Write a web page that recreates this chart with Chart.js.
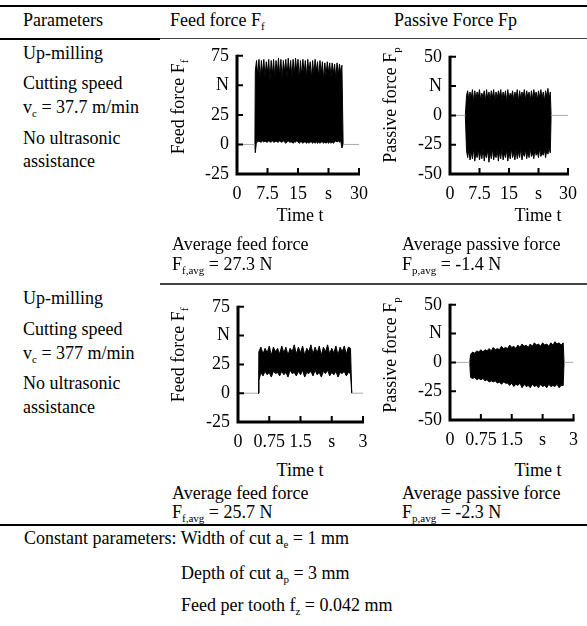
<!DOCTYPE html>
<html>
<head>
<meta charset="utf-8">
<script src="https://cdn.jsdelivr.net/npm/chart.js@4.4.0/dist/chart.umd.min.js"></script>
<style>
body{margin:0;width:587px;height:626px;background:#fff;position:relative;overflow:hidden;
  font-family:"Liberation Serif","Times New Roman",serif;color:#000}
.t{position:absolute;white-space:nowrap;font-size:18px;line-height:18px}
.c{width:120px;text-align:center}
.rule{position:absolute}
sub{font-size:11px;vertical-align:-4px;line-height:0}
.ylab{position:absolute;width:150px;height:20px;text-align:center;white-space:nowrap;
  font-size:18px;line-height:20px;transform:rotate(-90deg)}
canvas{position:absolute}
</style>
</head>
<body>
<div class="rule" style="left:0;top:5px;width:587px;height:2px;background:#000"></div>
<div class="rule" style="left:0;top:38px;width:160px;height:2px;background:#000"></div>
<div class="rule" style="left:160px;top:38px;width:427px;height:1px;background:#444"></div>
<div class="rule" style="left:160px;top:283px;width:427px;height:2px;background:#444"></div>
<div class="rule" style="left:0;top:524px;width:587px;height:2px;background:#000"></div>

<div class="t" style="left:23px;top:11px">Parameters</div>
<div class="t" style="left:170px;top:11px">Feed force F<sub>f</sub></div>
<div class="t" style="left:394px;top:11px">Passive Force Fp</div>

<div class="t" style="left:23px;top:44px">Up-milling</div>
<div class="t" style="left:23px;top:74px">Cutting speed</div>
<div class="t" style="left:23px;top:98px">v<sub>c</sub> = 37.7 m/min</div>
<div class="t" style="left:23px;top:129px">No ultrasonic</div>
<div class="t" style="left:23px;top:152px">assistance</div>

<div class="t" style="left:23px;top:289px">Up-milling</div>
<div class="t" style="left:23px;top:320px">Cutting speed</div>
<div class="t" style="left:23px;top:344px">v<sub>c</sub> = 377 m/min</div>
<div class="t" style="left:23px;top:374px">No ultrasonic</div>
<div class="t" style="left:23px;top:398px">assistance</div>

<canvas id="c1" width="190" height="173" style="left:187px;top:37px"></canvas>
<canvas id="c2" width="186" height="172" style="left:400px;top:38px"></canvas>
<canvas id="c3" width="189" height="170" style="left:188px;top:288px"></canvas>
<canvas id="c4" width="187" height="170" style="left:400px;top:286px"></canvas>

<div class="ylab" style="left:103px;top:97px">Feed force F<sub>f</sub></div>
<div class="ylab" style="left:315px;top:95px">Passive force F<sub>p</sub></div>
<div class="ylab" style="left:103px;top:345px">Feed force F<sub>f</sub></div>
<div class="ylab" style="left:315px;top:345px">Passive force F<sub>p</sub></div>

<div class="t c" style="left:240px;top:206px">Time t</div>
<div class="t c" style="left:478px;top:206px">Time t</div>
<div class="t" style="left:172px;top:235px">Average feed force</div>
<div class="t" style="left:172px;top:255px">F<sub>f,avg</sub> = 27.3 N</div>
<div class="t" style="left:402px;top:235px">Average passive force</div>
<div class="t" style="left:402px;top:255px">F<sub>p,avg</sub> = -1.4 N</div>

<div class="t c" style="left:240px;top:461px">Time t</div>
<div class="t c" style="left:478px;top:461px">Time t</div>
<div class="t" style="left:172px;top:484px">Average feed force</div>
<div class="t" style="left:172px;top:503px">F<sub>f,avg</sub> = 25.7 N</div>
<div class="t" style="left:402px;top:484px">Average passive force</div>
<div class="t" style="left:402px;top:503px">F<sub>p,avg</sub> = -2.3 N</div>

<div class="t" id="f1" style="left:24px;top:529px">Constant parameters: <span id="w">Width of cut a<sub>e</sub> = 1 mm</span></div>
<div class="t" id="f2" style="left:180px;top:564px">Depth of cut a<sub>p</sub> = 3 mm</div>
<div class="t" id="f3" style="left:180px;top:596px">Feed per tooth f<sub>z</sub> = 0.042 mm</div>

<script>
// feed force, vc = 37.7 m/min
var ff1Time = [4.4,
  4.5,4.8,5.1,5.4,5.7,6.0,6.3,6.6,6.9,7.2,
  7.5,7.8,8.1,8.4,8.7,9.0,9.3,9.6,9.9,10.2,
  10.5,10.8,11.1,11.4,11.7,12.0,12.3,12.6,12.9,13.2,
  13.5,13.8,14.1,14.4,14.7,15.0,15.3,15.6,15.9,16.2,
  16.5,16.8,17.1,17.4,17.7,18.0,18.3,18.6,18.9,19.2,
  19.5,19.8,20.1,20.4,20.7,21.0,21.3,21.6,21.9,22.2,
  22.5,22.8,23.1,23.4,23.7,24.0,24.3,24.6,24.9,25.2,
  25.5,25.8,
  26.1];
var ff1Upper = [0,
  62,71,58,72,55,71,60,72,57,70,
  61,72,54,71,59,72,56,71,60,73,
  58,72,55,71,61,72,57,73,60,71,
  56,72,59,73,62,72,55,71,58,72,
  60,71,57,72,61,70,56,71,59,72,
  62,70,57,71,60,70,55,69,58,70,
  61,69,57,69,60,68,56,69,59,68,
  61,67,
  0];
var ff1Lower = [0,
  -7,3,2,3,2,2,3,2,3,2,
  2,3,2,2,3,2,2,3,2,2,
  3,2,2,3,2,1,2,3,2,2,
  2,1,2,2,3,2,1,2,2,1,
  2,2,1,2,1,2,2,1,2,1,
  2,1,2,1,2,2,1,2,1,2,
  1,2,1,2,1,2,3,2,3,2,
  3,-3,
  0];

// passive force, vc = 37.7 m/min
var fp1Time = [3.9,
  4.2,4.5,4.8,5.1,5.4,5.7,6.0,6.3,6.6,6.9,
  7.2,7.5,7.8,8.1,8.4,8.7,9.0,9.3,9.6,9.9,
  10.2,10.5,10.8,11.1,11.4,11.7,12.0,12.3,12.6,12.9,
  13.2,13.5,13.8,14.1,14.4,14.7,15.0,15.3,15.6,15.9,
  16.2,16.5,16.8,17.1,17.4,17.7,18.0,18.3,18.6,18.9,
  19.2,19.5,19.8,20.1,20.4,20.7,21.0,21.3,21.6,21.9,
  22.2,22.5,22.8,23.1,23.4,23.7,24.0,24.3,24.6,24.9,
  25.2,25.5,
  25.7];
var fp1Upper = [0,
  17,21,13,20,15,22,12,21,14,20,
  16,22,13,19,15,21,12,22,14,20,
  13,21,15,22,12,20,14,21,16,22,
  13,20,15,21,12,22,14,19,16,21,
  13,20,15,22,12,21,14,20,16,22,
  13,21,15,20,12,21,14,22,16,20,
  13,21,15,22,14,20,12,21,16,23,
  14,20,
  0];
var fp1Lower = [0,
  -30,-36,-29,-38,-31,-37,-28,-39,-32,-36,
  -29,-38,-31,-37,-28,-39,-33,-36,-29,-40,
  -31,-37,-28,-38,-32,-36,-29,-39,-31,-37,
  -28,-38,-32,-36,-29,-39,-31,-37,-28,-36,
  -32,-38,-29,-37,-31,-36,-28,-38,-32,-35,
  -29,-37,-31,-36,-28,-35,-32,-37,-29,-34,
  -31,-36,-28,-35,-32,-34,-29,-36,-30,-33,
  -28,-32,
  0];

// feed force, vc = 377 m/min
var ff2Time = [0.48,
  0.50,0.55,0.60,0.65,0.70,0.75,0.80,0.85,0.90,0.95,
  1.00,1.05,1.10,1.15,1.20,1.25,1.30,1.35,1.40,1.45,
  1.50,1.55,1.60,1.65,1.70,1.75,1.80,1.85,1.90,1.95,
  2.00,2.05,2.10,2.15,2.20,2.25,2.30,2.35,2.40,2.45,
  2.50,2.55,2.60,2.65,2.70,
  2.73];
var ff2Upper = [0,
  36,40,34,39,35,41,33,40,36,39,
  34,41,35,40,33,39,36,42,34,40,
  35,41,33,39,36,42,34,40,35,41,
  33,40,36,42,34,39,35,41,33,40,
  36,41,34,40,39,
  0];
var ff2Lower = [0,
  11,18,15,19,16,18,14,19,17,18,
  15,19,16,18,14,20,17,18,15,19,
  16,20,14,18,17,19,15,20,16,18,
  14,19,17,20,15,18,16,19,14,18,
  17,19,15,18,17,
  0];

// passive force, vc = 377 m/min
var fp2Time = [0.48,
  0.50,0.55,0.60,0.65,0.70,0.75,0.80,0.85,0.90,0.95,
  1.00,1.05,1.10,1.15,1.20,1.25,1.30,1.35,1.40,1.45,
  1.50,1.55,1.60,1.65,1.70,1.75,1.80,1.85,1.90,1.95,
  2.00,2.05,2.10,2.15,2.20,2.25,2.30,2.35,2.40,2.45,
  2.50,2.55,2.60,2.65,2.70,2.75,
  2.77];
var fp2Upper = [0,
  7,9,8,10,9,11,9,11,10,12,
  10,13,11,12,11,14,12,13,12,15,
  13,14,12,15,13,16,14,15,13,16,
  14,17,15,16,14,17,15,16,14,17,
  15,18,16,17,15,17,
  0];
var fp2Lower = [0,
  -13,-14,-13,-15,-14,-15,-14,-16,-15,-17,
  -16,-17,-16,-18,-17,-19,-17,-18,-18,-20,
  -18,-21,-19,-20,-18,-22,-19,-21,-20,-22,
  -19,-21,-20,-22,-19,-21,-20,-22,-19,-21,
  -20,-21,-19,-22,-20,-20,
  0];

var feedTicks = [-25, 0, 25, 50, 75];
var passTicks = [-50, -25, 0, 25, 50];
var time1Ticks = [0, 7.5, 15, 22.5, 30];
var time2Ticks = [0, 0.75, 1.5, 2.25, 3];

// footer lines line up under "Width of cut"
var wx = document.getElementById('f1').offsetLeft + document.getElementById('w').offsetLeft;
document.getElementById('f2').style.left = wx + 'px';
document.getElementById('f3').style.left = wx + 'px';

function pts(t, v) {
  var out = [];
  for (var i = 0; i < t.length; i++) out.push({x: t[i], y: v[i]});
  return out;
}

var axisPlugin = {
  id: 'axisPlugin',
  afterDraw: function(chart) {
    var ctx = chart.ctx, a = chart.chartArea, x = chart.scales.x, y = chart.scales.y;
    ctx.save();
    ctx.strokeStyle = '#000';
    ctx.lineWidth = 3;
    ctx.beginPath();
    ctx.moveTo(a.left, a.top - 1);
    ctx.lineTo(a.left, a.bottom);
    ctx.lineTo(a.right + 1, a.bottom);
    ctx.stroke();
    ctx.lineWidth = 2;
    ctx.beginPath();
    y.ticks.forEach(function(t) {
      var py = y.getPixelForValue(t.value);
      ctx.moveTo(a.left, py); ctx.lineTo(a.left + 6, py);
    });
    x.ticks.forEach(function(t) {
      var px = x.getPixelForValue(t.value);
      ctx.moveTo(px, a.bottom); ctx.lineTo(px, a.bottom - 6);
    });
    ctx.stroke();
    ctx.restore();
  }
};

function makeChart(id, t, up, lo, tmax, xt, yt, xs, yn, padRight) {
  var font = {family: 'Liberation Serif', size: 18};
  return new Chart(document.getElementById(id), {
    type: 'line',
    data: {datasets: [
      {data: [{x: 0, y: 0}, {x: t[0], y: 0}], borderColor: '#aaa', borderWidth: 1, pointRadius: 0, fill: false},
      {data: [{x: t[t.length - 1], y: 0}, {x: tmax, y: 0}], borderColor: '#aaa', borderWidth: 1, pointRadius: 0, fill: false},
      {data: pts(t, up), borderColor: '#000', borderWidth: 1, pointRadius: 0, fill: false},
      {data: pts(t, lo), borderColor: '#000', borderWidth: 1, pointRadius: 0, fill: '-1', backgroundColor: '#000'}
    ]},
    options: {
      responsive: false,
      animation: false,
      layout: {padding: {top: 12, right: padRight, left: 0, bottom: 0}},
      plugins: {legend: {display: false}, tooltip: {enabled: false}},
      elements: {line: {tension: 0}},
      scales: {
        x: {
          type: 'linear', min: 0, max: tmax,
          afterBuildTicks: function(s) { s.ticks = xt.map(function(v) { return {value: v}; }); },
          afterFit: function(s) { s.height = 36; },
          grid: {display: false, drawTicks: false}, border: {display: false},
          ticks: {color: '#000', font: font, padding: 9, autoSkip: false, maxRotation: 0,
            callback: function(v) { return v === xs ? 's' : v; }}
        },
        y: {
          min: yt[0], max: yt[yt.length - 1],
          afterBuildTicks: function(s) { s.ticks = yt.map(function(v) { return {value: v}; }); },
          afterFit: function(s) { s.width = 50; },
          grid: {display: false, drawTicks: false}, border: {display: false},
          ticks: {color: '#000', font: font, padding: 8,
            callback: function(v) { return v === yn ? 'N' : v; }}
        }
      }
    },
    plugins: [axisPlugin]
  });
}

makeChart('c1', ff1Time, ff1Upper, ff1Lower, 30, time1Ticks, feedTicks, 22.5, 50, 14);
makeChart('c2', fp1Time, fp1Upper, fp1Lower, 30, time1Ticks, passTicks, 22.5, 25, 12);
makeChart('c3', ff2Time, ff2Upper, ff2Lower, 3, time2Ticks, feedTicks, 2.25, 50, 14);
makeChart('c4', fp2Time, fp2Upper, fp2Lower, 3, time2Ticks, passTicks, 2.25, 25, 12);
</script>
</body>
</html>
